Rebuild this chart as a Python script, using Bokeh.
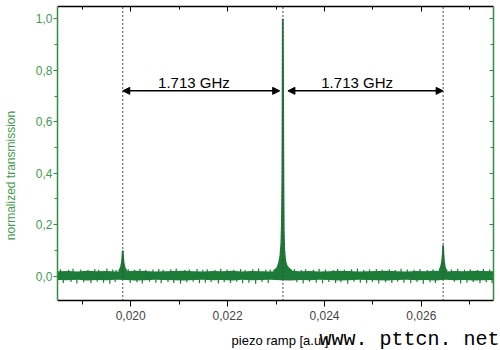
import numpy as np
from bokeh.plotting import figure
from bokeh.models import (Range1d, LinearAxis, FixedTicker, CustomJSTickFormatter,
                          Arrow, NormalHead, Label)
from bokeh.core.properties import value
from bokeh.embed import file_html
from bokeh.resources import INLINE

# ---------------- data ----------------
x_ticks = [0.020, 0.022, 0.024, 0.026]
x_minor = [0.019, 0.021, 0.023, 0.025, 0.027]
y_ticks = [0.0, 0.2, 0.4, 0.6, 0.8, 1.0]
y_minor = [0.1, 0.3, 0.5, 0.7, 0.9]

# dense background noise: core band envelope
core_upper = [0.019, 0.020, 0.018, 0.021, 0.019, 0.020, 0.018, 0.019, 0.021, 0.020,
              0.018, 0.019, 0.020, 0.021, 0.019, 0.018, 0.020, 0.019, 0.021, 0.018,
              0.020, 0.019, 0.018, 0.020, 0.021, 0.019, 0.020, 0.018, 0.019, 0.021,
              0.020, 0.018, 0.019, 0.020, 0.021, 0.019, 0.018, 0.020, 0.019, 0.021,
              0.018, 0.020, 0.019, 0.021, 0.020, 0.019]
core_lower = [-0.015, -0.016, -0.014, -0.017, -0.015, -0.016, -0.014, -0.015, -0.017, -0.016,
              -0.014, -0.015, -0.016, -0.017, -0.015, -0.014, -0.016, -0.015, -0.017, -0.014,
              -0.016, -0.015, -0.014, -0.016, -0.017, -0.015, -0.016, -0.014, -0.015, -0.017,
              -0.016, -0.014, -0.015, -0.016, -0.017, -0.015, -0.014, -0.016, -0.015, -0.017,
              -0.014, -0.016, -0.015, -0.017, -0.016, -0.015]

# noise spikes above / below the core
spike_up_x = [0.01855, 0.01872, 0.01881, 0.01897, 0.01912, 0.01926, 0.01934, 0.01951, 0.01963, 0.01970,
              0.01995, 0.02008, 0.02019, 0.02031, 0.02046, 0.02058, 0.02067, 0.02083, 0.02094, 0.02112,
              0.02121, 0.02137, 0.02149, 0.02158, 0.02174, 0.02186, 0.02199, 0.02213, 0.02227, 0.02236,
              0.02252, 0.02264, 0.02279, 0.02288, 0.02338, 0.02352, 0.02361, 0.02377, 0.02389, 0.02402,
              0.02418, 0.02427, 0.02441, 0.02456, 0.02468, 0.02481, 0.02493, 0.02507, 0.02519, 0.02534,
              0.02546, 0.02558, 0.02571, 0.02585, 0.02597, 0.02612, 0.02624, 0.02662, 0.02675, 0.02689,
              0.02701, 0.02716, 0.02728, 0.02741]
spike_up_y = [0.027, 0.025, 0.029, 0.026, 0.024, 0.028, 0.025, 0.030, 0.026, 0.024,
              0.027, 0.025, 0.029, 0.024, 0.026, 0.028, 0.025, 0.027, 0.030, 0.024,
              0.026, 0.028, 0.025, 0.027, 0.024, 0.029, 0.026, 0.025, 0.028, 0.024,
              0.027, 0.030, 0.025, 0.026, 0.028, 0.024, 0.027, 0.025, 0.029, 0.026,
              0.024, 0.028, 0.025, 0.027, 0.030, 0.024, 0.026, 0.028, 0.025, 0.027,
              0.024, 0.029, 0.026, 0.025, 0.028, 0.024, 0.027, 0.026, 0.029, 0.025,
              0.027, 0.024, 0.028, 0.026]
spike_dn_x = [0.01861, 0.01877, 0.01889, 0.01903, 0.01918, 0.01931, 0.01944, 0.01957, 0.01968, 0.01999,
              0.02013, 0.02024, 0.02039, 0.02052, 0.02063, 0.02077, 0.02089, 0.02103, 0.02116, 0.02129,
              0.02142, 0.02154, 0.02166, 0.02181, 0.02193, 0.02206, 0.02219, 0.02231, 0.02244, 0.02258,
              0.02271, 0.02284, 0.02343, 0.02356, 0.02369, 0.02383, 0.02396, 0.02409, 0.02423, 0.02434,
              0.02448, 0.02461, 0.02474, 0.02487, 0.02499, 0.02512, 0.02526, 0.02539, 0.02551, 0.02564,
              0.02578, 0.02591, 0.02604, 0.02618, 0.02629, 0.02668, 0.02681, 0.02694, 0.02707, 0.02721,
              0.02734, 0.02746]
spike_dn_y = [-0.026, -0.023, -0.028, -0.024, -0.027, -0.022, -0.025, -0.029, -0.023, -0.026,
              -0.024, -0.028, -0.022, -0.025, -0.027, -0.023, -0.026, -0.029, -0.024, -0.022,
              -0.027, -0.025, -0.023, -0.028, -0.024, -0.026, -0.022, -0.027, -0.025, -0.029,
              -0.023, -0.026, -0.024, -0.028, -0.022, -0.025, -0.027, -0.023, -0.026, -0.024,
              -0.029, -0.022, -0.025, -0.027, -0.023, -0.028, -0.024, -0.026, -0.022, -0.025,
              -0.027, -0.023, -0.029, -0.024, -0.026, -0.022, -0.028, -0.025, -0.023, -0.027,
              -0.024, -0.026]

# transmission peaks
peak1_x = [0.01976, 0.01980, 0.01982, 0.019832, 0.019837, 0.019842, 0.019855, 0.01988, 0.01992]
peak1_y = [0.02, 0.035, 0.055, 0.08, 0.10, 0.08, 0.05, 0.03, 0.02]
peak2_x = [0.02295, 0.02302, 0.02306, 0.02309, 0.02311, 0.02312, 0.02313, 0.023135, 0.02314,
           0.023145, 0.02315, 0.023155, 0.02316, 0.02317, 0.02319, 0.02322, 0.02326, 0.02333]
peak2_y = [0.02, 0.03, 0.05, 0.08, 0.13, 0.20, 0.38, 0.60, 1.00,
           0.80, 0.50, 0.30, 0.18, 0.10, 0.06, 0.04, 0.03, 0.02]
peak3_x = [0.02637, 0.02641, 0.02643, 0.026444, 0.026449, 0.026454, 0.026467, 0.02649, 0.02653]
peak3_y = [0.02, 0.04, 0.06, 0.09, 0.12, 0.09, 0.055, 0.03, 0.02]

# resonance markers and free spectral range annotation
marker_x = [0.019837, 0.023143, 0.026449]
arrow_start = [0.019837, 0.023245]
arrow_end = [0.023076, 0.026449]
arrow_y = 0.72
fsr_labels = ["1.713 GHz", "1.713 GHz"]
fsr_label_x = [0.021306, 0.024674]

# axes box (data limits) and the visible range around it
X0, X1 = 0.01849, 0.02749
Y0, Y1 = -0.096, 1.048
XR_END = 0.027633
YR_START, YR_END = -0.2887, 1.0711

core_x = np.linspace(0.0185, X1, len(core_upper))

GREEN = "#1c7c37"
AXIS_GREEN = "#2f8f3f"
LABEL_GREEN = "#3f9c4d"

p = figure(width=500, height=350, output_backend="svg", toolbar_location=None,
           x_range=Range1d(X0, XR_END), y_range=Range1d(YR_START, YR_END),
           min_border_left=52, min_border_right=0, min_border_top=0, min_border_bottom=0)
p.outline_line_color = None
p.grid.visible = False
p.background_fill_color = "white"

# data
p.varea(x=core_x, y1=core_lower, y2=core_upper, fill_color=GREEN)
p.segment(x0=spike_up_x, y0=[0.0] * len(spike_up_x), x1=spike_up_x, y1=spike_up_y,
          line_color=GREEN, line_width=1.2)
p.segment(x0=spike_dn_x, y0=[0.0] * len(spike_dn_x), x1=spike_dn_x, y1=spike_dn_y,
          line_color=GREEN, line_width=1.2)
for px, py in [(peak1_x, peak1_y), (peak2_x, peak2_y), (peak3_x, peak3_y)]:
    p.varea(x=px, y1=[0.0] * len(px), y2=py, fill_color=GREEN)
    p.line(x=px, y=py, line_color=GREEN, line_width=1.8)

# dotted resonance markers across the box
p.segment(x0=marker_x, y0=[Y0] * len(marker_x), x1=marker_x, y1=[Y1] * len(marker_x),
          line_color="#444444", line_dash="2 2", line_width=1)

for xs, xe in zip(arrow_start, arrow_end):
    p.add_layout(Arrow(x_start=xs, y_start=arrow_y, x_end=xe, y_end=arrow_y,
                       line_color="black", line_width=1.5,
                       start=NormalHead(size=7, fill_color="black", line_color="black"),
                       end=NormalHead(size=7, fill_color="black", line_color="black")))

p.text(x=fsr_label_x, y=[arrow_y] * 2, text=fsr_labels, text_font=value("Liberation Sans"),
       text_font_size="15px", text_align="center", text_baseline="bottom",
       y_offset=0, text_color="black")

# bottom axis, pinned to the lower edge of the box
xa = p.xaxis[0]
xa.fixed_location = Y0
xa.bounds = (X0, X1)
xa.ticker = FixedTicker(ticks=x_ticks, minor_ticks=x_minor)
xa.formatter = CustomJSTickFormatter(code="return tick.toFixed(3).replace('.', ',');")
xa.major_tick_out = 6
xa.major_tick_in = 0
xa.minor_tick_out = 4
xa.minor_tick_in = 0
xa.axis_line_width = 1.5
xa.axis_line_color = "black"
xa.major_tick_line_color = "black"
xa.minor_tick_line_color = "black"
xa.major_label_text_font = "Liberation Sans"
xa.major_label_text_font_size = "12px"
xa.major_label_standoff = 4

# left axis
ya = p.yaxis[0]
ya.bounds = (Y0, Y1)
ya.ticker = FixedTicker(ticks=y_ticks, minor_ticks=y_minor)
ya.formatter = CustomJSTickFormatter(code="return tick.toFixed(1).replace('.', ',');")
ya.major_tick_out = 4
ya.major_tick_in = 0
ya.minor_tick_out = 3
ya.minor_tick_in = 0
ya.axis_line_width = 1.5
ya.axis_line_color = AXIS_GREEN
ya.major_tick_line_color = AXIS_GREEN
ya.minor_tick_line_color = AXIS_GREEN
ya.major_label_text_color = LABEL_GREEN
ya.major_label_text_font = "Liberation Sans"
ya.major_label_text_font_size = "12px"
ya.major_label_standoff = 1
ya.axis_label = "normalized transmission"
ya.axis_label_text_color = LABEL_GREEN
ya.axis_label_text_font = "Liberation Sans"
ya.axis_label_text_font_size = "12px"
ya.axis_label_text_font_style = "normal"
ya.axis_label_standoff = 15

empty = CustomJSTickFormatter(code="return '';")

# top axis (inward ticks, no labels)
top = LinearAxis(ticker=FixedTicker(ticks=x_ticks, minor_ticks=x_minor), formatter=empty,
                 fixed_location=Y1, bounds=(X0, X1),
                 major_label_text_font_size="0px", major_label_standoff=0,
                 major_tick_in=5, major_tick_out=0, minor_tick_in=3, minor_tick_out=0,
                 axis_line_width=1.5, axis_line_color="black")
p.add_layout(top, "above")

# right axis (inward ticks, no labels)
right = LinearAxis(ticker=FixedTicker(ticks=y_ticks, minor_ticks=y_minor), formatter=empty,
                   fixed_location=X1, bounds=(Y0, Y1),
                   major_label_text_font_size="0px", major_label_standoff=0,
                   major_tick_in=4, major_tick_out=0, minor_tick_in=3, minor_tick_out=0,
                   axis_line_width=1.5, axis_line_color=AXIS_GREEN,
                   major_tick_line_color=AXIS_GREEN, minor_tick_line_color=AXIS_GREEN)
p.add_layout(right, "right")

# x-axis title
p.add_layout(Label(x=0.023082, y=-0.2498, text="piezo ramp [a.u.]",
                   text_font="Liberation Sans", text_font_size="13px",
                   text_align="center", text_baseline="middle", text_color="black"))

# watermark
p.add_layout(Label(x=0.023898, y=-0.246, text="www. pttcn. net", text_font="Liberation Mono",
                   text_font_size="20px", text_baseline="alphabetic", text_color="black"))

open("out.html", "w").write(file_html(p, INLINE))
